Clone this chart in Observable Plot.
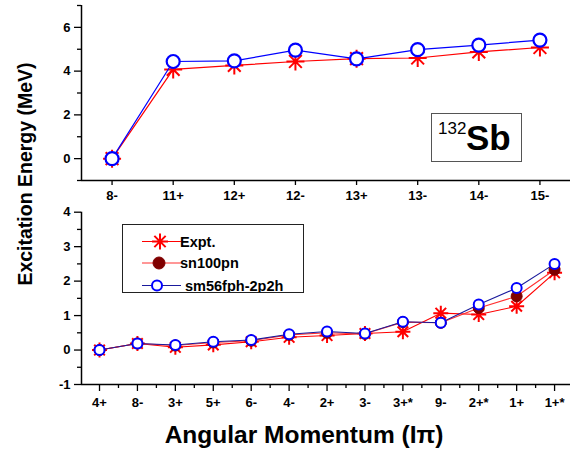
<!DOCTYPE html>
<html>
<head>
<meta charset="utf-8">
<script src="https://cdn.jsdelivr.net/npm/d3@7"></script>
<script src="https://cdn.jsdelivr.net/npm/@observablehq/plot@0.6"></script>
<style>
  body { margin: 0; background: #fff; }
  #wrap { position: relative; width: 575px; height: 452px; background: #fff; font-family: "Liberation Sans", Arial, sans-serif; overflow: hidden; }
  #top, #bot { position: absolute; left: 0; width: 575px; }
  #top { top: 0; }
  #bot { top: 200px; }
  #ytitle { position: absolute; left: 25px; top: 174px; transform: translate(-50%, -50%) rotate(-90deg); font-weight: bold; font-size: 19.5px; white-space: nowrap; }
  #xtitle { position: absolute; left: 304px; top: 435px; transform: translate(-50%, -50%); font-weight: bold; font-size: 24.5px; white-space: nowrap; }
  #legend { position: absolute; left: 122px; top: 224px; width: 180px; height: 67px; border: 1px solid #222; background: #fff; }
  #label132 { position: absolute; left: 431px; top: 113px; width: 89px; height: 47px; border: 1px solid #555; background: #fff; font-weight: bold; }
</style>
</head>
<body>
<div id="wrap">
  <div id="top"></div>
  <div id="bot"></div>
  <div id="ytitle">Excitation Energy (MeV)</div>
  <div id="xtitle">Angular Momentum (I&pi;)</div>
  <div id="legend"></div>
  <div id="label132"><span style="position:absolute;left:6px;top:5px;font-size:17px;font-weight:normal;">132</span><span style="position:absolute;left:34px;top:4px;font-size:35px;">Sb</span></div>
</div>
<script>
// ---- Data ----
const topCats = ["8-", "11+", "12+", "12-", "13+", "13-", "14-", "15-"];
const topExpt = [0, 4.08, 4.26, 4.44, 4.57, 4.6, 4.88, 5.08];
const topSm56 = [0, 4.44, 4.47, 4.96, 4.56, 4.98, 5.19, 5.42];

const botCats = ["4+", "8-", "3+", "5+", "6-", "4-", "2+", "3-", "3+*", "9-", "2+*", "1+", "1+*"];
const botExpt = [0, 0.19, 0.08, 0.15, 0.24, 0.37, 0.42, 0.48, 0.53, 1.07, 1.03, 1.27, 2.24];
const botSn100 = [0, 0.19, 0.13, 0.22, 0.27, 0.44, 0.5, 0.47, 0.81, 0.79, 1.22, 1.56, 2.33];
const botSm56 = [0, 0.19, 0.145, 0.24, 0.29, 0.46, 0.54, 0.48, 0.82, 0.79, 1.32, 1.8, 2.5];

const seriesNames = ["Expt.", "sn100pn", "sm56fph-2p2h"];

// ---- Styles ----
const RED = "#ff0000", DARKRED = "#800000", BLUE = "#0000ff", NAVY = "#1a1a9c";

const star8 = {
  draw(ctx, size) {
    const r = Math.sqrt(size / Math.PI);
    const d = r * Math.SQRT1_2;
    ctx.moveTo(-r, 0); ctx.lineTo(r, 0);
    ctx.moveTo(0, -r); ctx.lineTo(0, r);
    ctx.moveTo(-d, -d); ctx.lineTo(d, d);
    ctx.moveTo(-d, d); ctx.lineTo(d, -d);
  }
};

const toRows = (vals) => vals.map((v, i) => ({i, v}));
const FS = 13;
const plotStyle = {fontFamily: "'Liberation Sans', Arial, sans-serif", fontSize: FS + "px", fontWeight: "bold", color: "#000", background: "transparent", overflow: "visible"};

const tickText = (ticks, labels, dim, opts) =>
  Plot.text(ticks.map((t, k) => ({t, s: labels[k]})), {
    [dim]: "t", text: "s", fontSize: FS, fontWeight: "bold", fill: "#000",
    fontFamily: "'Liberation Sans', Arial, sans-serif", ...opts
  });

// ---- Top panel ----
const topTicksY = [0, 2, 4, 6];
const topPlot = Plot.plot({
  width: 575, height: 200,
  marginLeft: 81, marginRight: 5, marginTop: 5, marginBottom: 20,
  style: plotStyle,
  x: {type: "linear", domain: [-0.5, topCats.length - 0.5]},
  y: {domain: [-1, 7]},
  marks: [
    Plot.axisY({ticks: topTicksY, tickSize: 7, text: null, label: null, strokeWidth: 1.3}),
    Plot.axisY({ticks: [-1, 1, 3, 5, 7], tickSize: 4, text: null, label: null, strokeWidth: 1.3}),
    Plot.axisX({ticks: d3.range(topCats.length), tickSize: 5, text: null, label: null, strokeWidth: 1.3}),
    tickText(topTicksY, topTicksY.map(String), "y", {frameAnchor: "left", textAnchor: "end", dx: -11}),
    tickText(d3.range(topCats.length), topCats, "x", {frameAnchor: "bottom", lineAnchor: "top", dy: 10}),
    Plot.ruleX([-0.5], {stroke: "#000", strokeWidth: 1.5}),
    Plot.ruleY([-1], {stroke: "#000", strokeWidth: 1.5}),
    Plot.line(toRows(topExpt), {x: "i", y: "v", stroke: RED, strokeWidth: 1.2}),
    Plot.dot(toRows(topExpt), {x: "i", y: "v", symbol: star8, r: 9, fill: "none", stroke: RED, strokeWidth: 2}),
    Plot.line(toRows(topSm56), {x: "i", y: "v", stroke: BLUE, strokeWidth: 1.2}),
    Plot.dot(toRows(topSm56), {x: "i", y: "v", r: 6.5, fill: "#fff", stroke: BLUE, strokeWidth: 2.2})
  ]
});
document.getElementById("top").appendChild(topPlot);

// ---- Bottom panel ----
const botTicksY = [-1, 0, 1, 2, 3, 4];
const botPlot = Plot.plot({
  width: 575, height: 252,
  marginLeft: 81, marginRight: 5, marginTop: 11.7, marginBottom: 68,
  style: plotStyle,
  x: {type: "linear", domain: [-0.475, 12.42]},
  y: {domain: [-1, 4]},
  marks: [
    Plot.axisY({ticks: botTicksY, tickSize: 7, text: null, label: null, strokeWidth: 1.3}),
    Plot.axisY({ticks: [-0.5, 0.5, 1.5, 2.5, 3.5], tickSize: 4, text: null, label: null, strokeWidth: 1.3}),
    Plot.axisX({ticks: d3.range(botCats.length), tickSize: 7, text: null, label: null, strokeWidth: 1.3}),
    Plot.axisX({ticks: d3.range(botCats.length - 1).map((i) => i + 0.5), tickSize: 4, text: null, label: null, strokeWidth: 1.3}),
    tickText(botTicksY, botTicksY.map(String), "y", {frameAnchor: "left", textAnchor: "end", dx: -11}),
    tickText(d3.range(botCats.length), botCats, "x", {frameAnchor: "bottom", lineAnchor: "top", dy: 13}),
    Plot.ruleX([-0.475], {stroke: "#000", strokeWidth: 1.5}),
    Plot.ruleY([-1], {stroke: "#000", strokeWidth: 1.5}),
    Plot.line(toRows(botExpt), {x: "i", y: "v", stroke: RED, strokeWidth: 1.1}),
    Plot.dot(toRows(botExpt), {x: "i", y: "v", symbol: star8, r: 7.5, fill: "none", stroke: RED, strokeWidth: 2}),
    Plot.line(toRows(botSn100), {x: "i", y: "v", stroke: "#ff3030", strokeWidth: 1.1}),
    Plot.dot(toRows(botSn100), {x: "i", y: "v", r: 5.5, fill: DARKRED, stroke: DARKRED, strokeWidth: 1}),
    Plot.line(toRows(botSm56), {x: "i", y: "v", stroke: NAVY, strokeWidth: 1.1}),
    Plot.dot(toRows(botSm56), {x: "i", y: "v", r: 5, fill: "#fff", stroke: BLUE, strokeWidth: 2})
  ]
});
document.getElementById("bot").appendChild(botPlot);

// make sure tick label fonts are applied inline
for (const p of [topPlot, botPlot]) {
  d3.select(p).selectAll("text")
    .style("font-size", FS + "px")
    .style("font-weight", "bold")
    .style("font-family", "'Liberation Sans', Arial, sans-serif");
}

// ---- Legend ----
const legendSpecs = [
  {name: seriesNames[0], line: RED, marker: "star", y: 16.5, mx: 37, tx: 57},
  {name: seriesNames[1], line: "#ff3030", marker: "dot", y: 38, mx: 36, tx: 57},
  {name: seriesNames[2], line: NAVY, marker: "circle", y: 60.5, mx: 34, tx: 62}
];
const ns = "http://www.w3.org/2000/svg";
const lsvg = document.createElementNS(ns, "svg");
lsvg.setAttribute("width", 180); lsvg.setAttribute("height", 67);
lsvg.style.position = "absolute"; lsvg.style.left = "0"; lsvg.style.top = "0";
for (const s of legendSpecs) {
  const ln = document.createElementNS(ns, "line");
  ln.setAttribute("x1", 19); ln.setAttribute("x2", 58); ln.setAttribute("y1", s.y); ln.setAttribute("y2", s.y);
  ln.setAttribute("stroke", s.line); ln.setAttribute("stroke-width", 1.1);
  lsvg.appendChild(ln);
  if (s.marker === "star") {
    const p = document.createElementNS(ns, "path");
    const r = 8, d = r * Math.SQRT1_2, cx = s.mx, cy = s.y;
    p.setAttribute("d", `M${cx - r},${cy}L${cx + r},${cy}M${cx},${cy - r}L${cx},${cy + r}M${cx - d},${cy - d}L${cx + d},${cy + d}M${cx - d},${cy + d}L${cx + d},${cy - d}`);
    p.setAttribute("stroke", RED); p.setAttribute("stroke-width", 2); p.setAttribute("fill", "none");
    lsvg.appendChild(p);
  } else {
    const c = document.createElementNS(ns, "circle");
    c.setAttribute("cx", s.mx); c.setAttribute("cy", s.y);
    c.setAttribute("r", s.marker === "dot" ? 6 : 5);
    c.setAttribute("fill", s.marker === "dot" ? DARKRED : "#fff");
    c.setAttribute("stroke", s.marker === "dot" ? DARKRED : BLUE);
    c.setAttribute("stroke-width", s.marker === "dot" ? 1 : 2);
    lsvg.appendChild(c);
  }
  const t = document.createElementNS(ns, "text");
  t.setAttribute("x", s.tx); t.setAttribute("y", s.y + 5);
  t.setAttribute("font-size", 14.5); t.setAttribute("font-weight", "bold");
  t.setAttribute("font-family", "'Liberation Sans', Arial, sans-serif");
  t.textContent = s.name;
  lsvg.appendChild(t);
}
document.getElementById("legend").appendChild(lsvg);
</script>
</body>
</html>
